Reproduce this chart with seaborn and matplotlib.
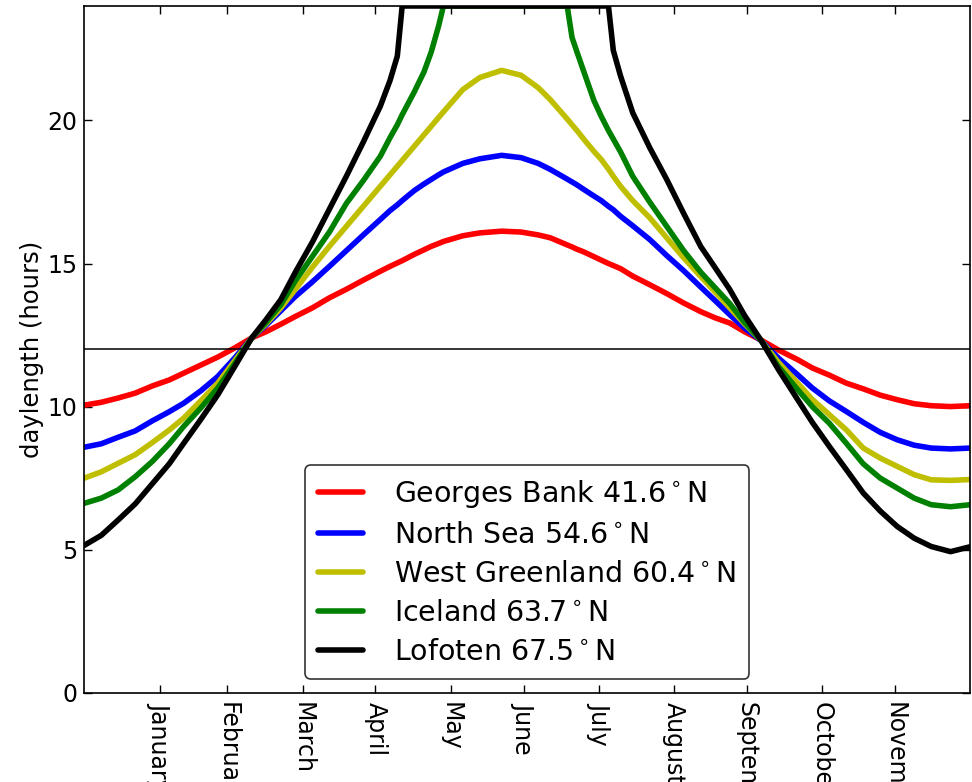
import matplotlib
matplotlib.use("Agg")
import matplotlib.pyplot as plt
import pandas as pd
import seaborn as sns

# Day of year for each sample
days = [0, 7, 14, 21, 28, 35, 41, 48, 55, 62,
        69, 75, 81, 87, 94, 101, 108, 115, 122, 126,
        129, 131, 136, 140, 143, 146, 148, 156, 163, 172,
        180, 187, 192, 199, 201, 203, 206, 210, 213, 216,
        218, 221, 226, 233, 240, 247, 254, 260, 266, 272,
        279, 286, 294, 300, 307, 314, 321, 328, 335, 342,
        349, 357, 365]

# Daylength in hours at each location
georges_bank = [10.05, 10.15, 10.30, 10.47, 10.72, 10.93, 11.17, 11.45, 11.73, 12.05,
                12.40, 12.62, 12.88, 13.15, 13.45, 13.80, 14.10, 14.42, 14.73, 14.90,
                15.02, 15.10, 15.32, 15.48, 15.60, 15.70, 15.77, 15.97, 16.07, 16.13,
                16.10, 16.00, 15.90, 15.65, 15.58, 15.50, 15.40, 15.24, 15.12, 15.00,
                14.93, 14.82, 14.56, 14.26, 13.95, 13.62, 13.32, 13.10, 12.92, 12.62,
                12.32, 11.98, 11.64, 11.35, 11.10, 10.82, 10.62, 10.40, 10.24, 10.10,
                10.03, 10.00, 10.03]
north_sea = [8.58, 8.70, 8.93, 9.15, 9.50, 9.82, 10.12, 10.55, 11.05, 11.70,
             12.40, 12.85, 13.35, 13.85, 14.36, 14.90, 15.45, 16.00, 16.54, 16.85,
             17.05, 17.20, 17.55, 17.78, 17.94, 18.10, 18.20, 18.50, 18.66, 18.78,
             18.70, 18.50, 18.29, 17.95, 17.85, 17.75, 17.58, 17.36, 17.20, 17.00,
             16.88, 16.65, 16.32, 15.84, 15.28, 14.75, 14.18, 13.70, 13.21, 12.75,
             12.30, 11.70, 11.11, 10.65, 10.20, 9.83, 9.45, 9.10, 8.84, 8.65,
             8.55, 8.52, 8.55]
west_greenland = [7.50, 7.72, 8.02, 8.32, 8.74, 9.18, 9.60, 10.20, 10.82, 11.60,
                  12.40, 12.90, 13.45, 14.10, 14.87, 15.60, 16.30, 17.00, 17.70, 18.10,
                  18.40, 18.60, 19.10, 19.50, 19.80, 20.10, 20.30, 21.08, 21.50, 21.75,
                  21.58, 21.15, 20.73, 20.05, 19.85, 19.65, 19.33, 18.92, 18.64, 18.30,
                  18.05, 17.70, 17.20, 16.60, 15.90, 15.20, 14.55, 14.00, 13.45, 12.90,
                  12.30, 11.55, 10.82, 10.25, 9.72, 9.19, 8.55, 8.20, 7.91, 7.62,
                  7.44, 7.42, 7.45]
iceland = [6.62, 6.80, 7.09, 7.55, 8.08, 8.70, 9.31, 9.95, 10.65, 11.50,
           12.40, 12.95, 13.56, 14.40, 15.25, 16.10, 17.10, 17.90, 18.75, 19.40,
           19.85, 20.20, 21.00, 21.70, 22.40, 23.30, 24.00, 24.00, 24.00, 24.00,
           24.00, 24.00, 24.00, 24.00, 22.90, 22.40, 21.67, 20.70, 20.15, 19.65,
           19.35, 18.90, 18.05, 17.15, 16.30, 15.45, 14.70, 14.15, 13.60, 12.95,
           12.30, 11.40, 10.59, 10.00, 9.42, 8.72, 8.00, 7.50, 7.15, 6.80,
           6.57, 6.50, 6.57]
lofoten = [5.15, 5.50, 6.04, 6.60, 7.30, 8.00, 8.72, 9.55, 10.41, 11.40,
           12.40, 13.05, 13.74, 14.70, 15.75, 16.90, 18.05, 19.25, 20.50, 21.40,
           22.25, 24.00, 24.00, 24.00, 24.00, 24.00, 24.00, 24.00, 24.00, 24.00,
           24.00, 24.00, 24.00, 24.00, 24.00, 24.00, 24.00, 24.00, 24.00, 24.00,
           22.45, 21.55, 20.27, 19.05, 17.94, 16.75, 15.60, 14.85, 14.09, 13.20,
           12.30, 11.30, 10.24, 9.45, 8.61, 7.80, 6.98, 6.35, 5.81, 5.40,
           5.11, 4.93, 5.10]

locations = ["Georges Bank 41.6$^\\circ$N", "North Sea 54.6$^\\circ$N",
             "West Greenland 60.4$^\\circ$N", "Iceland 63.7$^\\circ$N",
             "Lofoten 67.5$^\\circ$N"]
colors = ["red", "blue", (0.75, 0.75, 0.0), (0.0, 0.5, 0.0), "black"]

month_ticks = [31, 59, 90, 120, 151, 181, 212, 243, 273, 304, 334]
month_labels = ["January", "February", "March", "April", "May", "June", "July",
                "August", "September", "October", "November"]

series = [georges_bank, north_sea, west_greenland, iceland, lofoten]
df = pd.concat(
    [pd.DataFrame({"day": days, "hours": vals, "location": name})
     for name, vals in zip(locations, series)],
    ignore_index=True,
)

sns.set_style("ticks")
plt.rcParams["font.family"] = ["DejaVu Sans"]
plt.rcParams["mathtext.fontset"] = "dejavusans"
plt.rcParams["text.color"] = "black"
plt.rcParams["axes.labelcolor"] = "black"

fig = plt.figure(figsize=(9.72, 7.82), dpi=100)
ax = fig.add_axes([84.3 / 972, (782 - 692.7) / 782, (970 - 84.3) / 972, (692.7 - 6) / 782])

sns.lineplot(data=df, x="day", y="hours", hue="location", hue_order=locations,
             palette=dict(zip(locations, colors)), linewidth=4, sort=False,
             estimator=None, legend=False, ax=ax)
ax.axhline(12, color="black", linewidth=1.1)

ax.set_xlim(0, 365)
ax.set_ylim(0, 24)
ax.set_yticks([0, 5, 10, 15, 20])
ax.set_xticks(month_ticks)
ax.set_xticklabels(month_labels, rotation=270)
ax.set_xlabel("")
ax.set_ylabel("daylength (hours)", fontsize=17.5, labelpad=2)
ax.tick_params(direction="in", top=True, right=True, length=6, width=1,
               labelsize=17, colors="black")
ax.tick_params(axis="y", pad=5)
ax.tick_params(axis="x", pad=7)
for sp in ax.spines.values():
    sp.set_linewidth(1.2)
    sp.set_color("black")

leg = ax.legend(handles=ax.lines[:5], labels=locations, loc="lower center",
                fontsize=20.4, frameon=True, fancybox=True, handlelength=1.6,
                handletextpad=1.1, borderpad=0.45, labelspacing=0.39)
leg.get_frame().set_edgecolor("black")
leg.get_frame().set_linewidth(1.2)
for t in leg.get_texts():
    t.set_color("black")

fig.savefig("out.png", dpi=100)
